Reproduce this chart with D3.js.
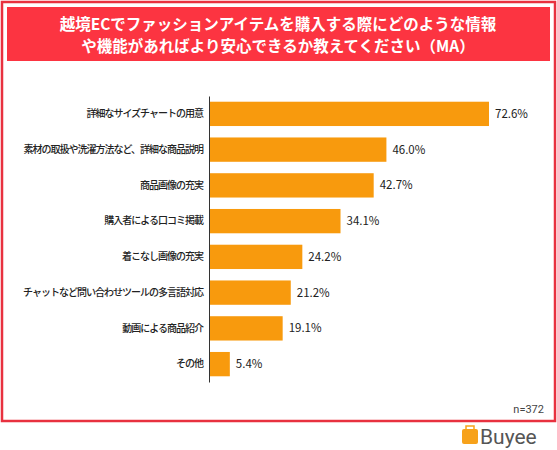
<!DOCTYPE html>
<html><head><meta charset="utf-8">
<script src="https://cdn.jsdelivr.net/npm/d3@7"></script>
<style>body{margin:0;background:#fff;font-family:"Noto Sans CJK JP",sans-serif;}</style>
</head><body><svg id="c" width="557" height="450"></svg>
<script>
const categories = ["詳細なサイズチャートの用意","素材の取扱や洗濯方法など、詳細な商品説明","商品画像の充実","購入者による口コミ掲載","着こなし画像の充実","チャットなど問い合わせツールの多言語対応","動画による商品紹介","その他"];
const values = [72.6,46.0,42.7,34.1,24.2,21.2,19.1,5.4];
const titleLines = ["越境ECでファッションアイテムを購入する際にどのような情報","や機能があればより安心できるか教えてください（MA）"];

let svg = d3.select("#c");
svg.append("rect").attr("x",2).attr("y",2).attr("width",553).attr("height",419)
  .attr("fill","#fff").attr("stroke","#e8313f").attr("stroke-width",2.5);
svg.append("rect").attr("x",7).attr("y",7).attr("width",543).attr("height",54).attr("fill","#fc3441");
titleLines.forEach((t,i)=>{
  svg.append("text").attr("x",278).attr("y",30+i*22).attr("text-anchor","middle")
    .attr("fill","#fff").attr("font-size",15.5).attr("font-weight","bold").text(t);
});

let x = d3.scaleLinear().domain([0,72.6]).range([209,489]);
let y = d3.scaleBand().domain(categories).range([96,382]).paddingInner(0.32).paddingOuter(0.16);

svg.selectAll(".bar").data(values).enter().append("rect")
  .attr("x",x(0)).attr("y",(d,i)=>y(categories[i]))
  .attr("width",d=>x(d)-x(0)).attr("height",y.bandwidth()).attr("fill","#f89a0d");
svg.selectAll(".val").data(values).enter().append("text")
  .attr("x",d=>x(d)+6).attr("y",(d,i)=>y(categories[i])+y.bandwidth()/2+4)
  .attr("font-size",11.5).attr("fill","#222").text(d=>d.toFixed(1)+"%");

let axis = svg.append("g").attr("transform","translate("+x(0)+",0)")
  .call(d3.axisLeft(y).tickSize(0).tickPadding(6));
axis.select(".domain").attr("stroke","#333");
axis.selectAll("text").attr("font-size",10).attr("letter-spacing",-1).attr("font-weight",500)
  .attr("fill","#222").attr("font-family","Noto Sans CJK JP");

svg.append("text").attr("x",544).attr("y",413).attr("text-anchor","end")
  .attr("font-size",11).attr("fill","#444").attr("font-family","Roboto").text("n=372");

// logo
let lg = svg.append("g").attr("transform","translate(462,426)");
lg.append("rect").attr("x",0).attr("y",3).attr("width",16).attr("height",15).attr("rx",2).attr("fill","#f7a21b");
lg.append("rect").attr("x",4).attr("y",0).attr("width",8).attr("height",5).attr("fill","none").attr("stroke","#f7a21b").attr("stroke-width",1.5);
lg.append("text").attr("x",18).attr("y",18).attr("font-size",21).attr("fill","#555").attr("font-family","Roboto").text("Buyee");
</script></body></html>
